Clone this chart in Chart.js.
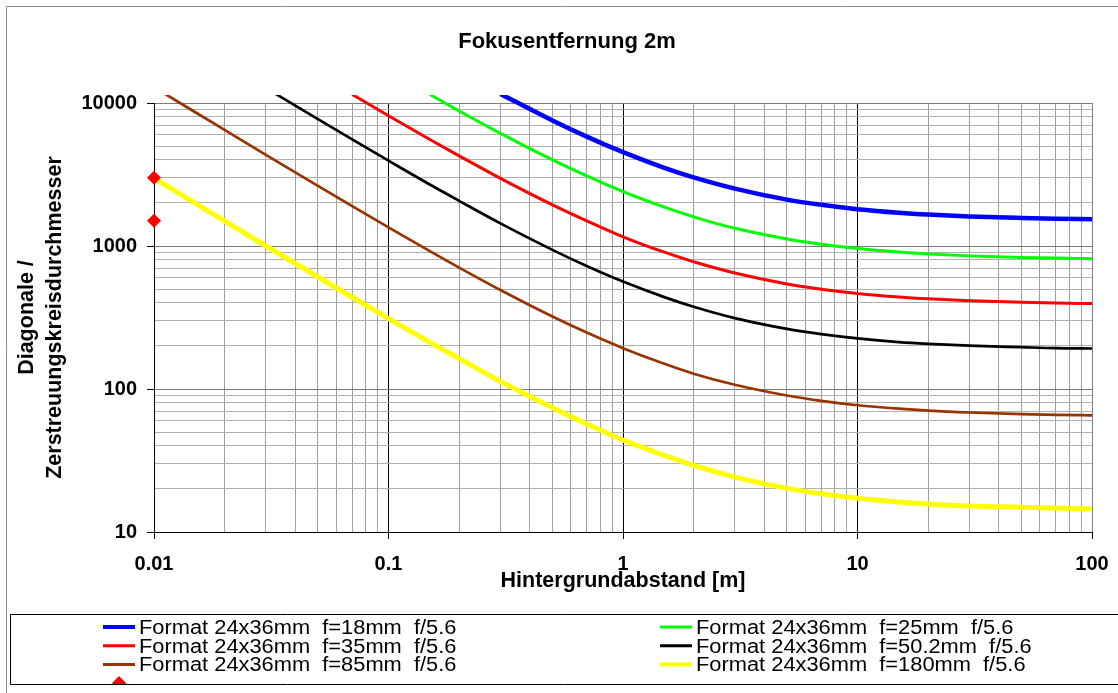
<!DOCTYPE html>
<html>
<head>
<meta charset="utf-8">
<script src="https://cdn.jsdelivr.net/npm/chart.js@4.4.1/dist/chart.umd.min.js"></script>
<style>
  html, body { margin: 0; padding: 0; background: #fff; overflow: hidden; }
  canvas { display: block; }
</style>
</head>
<body>
<canvas id="c" width="1118" height="693"></canvas>
<script>
const FONT = "'Liberation Sans', Arial, Helvetica, sans-serif";

// Texts
const titleText = 'Fokusentfernung 2m';
const xTitleText = 'Hintergrundabstand [m]';
const yTitleLines = ['Diagonale /', 'Zerstreuungskreisdurchmesser'];

// Tick labels (decades of both log axes)
const xTickLabels = ['0.01', '0.1', '1', '10', '100'];
const yTickLabels = ['10', '100', '1000', '10000'];

// Background distance in metres (shared x values)
const distances = [0.01, 0.015, 0.02, 0.03, 0.05, 0.07, 0.1, 0.15, 0.2, 0.3, 0.5, 0.7,
                   1, 1.5, 2, 3, 5, 7, 10, 15, 20, 30, 50, 70, 100];

// Diagonal / circle of confusion, one array per lens (null = above the plotted range)
const lens18 = [null, null, null, null, null, null, null, null, null,
                11580, 7550, 5820, 4530, 3520, 3020, 2520, 2110, 1940, 1810, 1710, 1660, 1610, 1570, 1550, 1540];
const lens25 = [null, null, null, null, null, null, null,
                11470, 8800, 6130, 4000, 3090, 2400, 1870, 1600, 1330, 1120, 1030, 960, 907, 880, 853, 832, 823, 816];
const lens35 = [null, null, null, null, null,
                11470, 8150, 5560, 4270, 2970, 1940, 1500, 1160, 905, 776, 647, 543, 499, 466, 440, 427, 414, 404, 399, 396];
const lens50 = [null, null, null,
                12720, 7710, 5560, 3950, 2690, 2070, 1440, 940, 725, 564, 439, 376, 313, 263, 242, 226, 213, 207, 201, 196, 193, 192];
const lens85 = [12900, 8620, 6480, 4340, 2630, 1900, 1350, 920, 706, 492, 321, 248, 193, 150, 128, 107, 90, 82.6, 77, 72.8, 70.6, 68.5, 66.8, 66, 65.5];
const lens180 = [2980, 1990, 1495, 1000, 607, 438, 311, 212, 163, 113, 74, 57, 44, 34.3, 29.2, 24.2, 20.2, 18.5, 17.2, 16.2, 15.7, 15.2, 14.9, 14.7, 14.5];

// Single marked points at the left edge
const markerX = [0.01, 0.01];
const markerY = [3000, 1500];

const seriesLabels = [
  'Format 24x36mm  f=18mm  f/5.6',
  'Format 24x36mm  f=25mm  f/5.6',
  'Format 24x36mm  f=35mm  f/5.6',
  'Format 24x36mm  f=50.2mm  f/5.6',
  'Format 24x36mm  f=85mm  f/5.6',
  'Format 24x36mm  f=180mm  f/5.6'
];
const markerLabel = 'Messpunkte';

const seriesValues = [lens18, lens25, lens35, lens50, lens85, lens180];
const seriesColors = ['#0000ff', '#00ff00', '#ff0000', '#000000', '#993300', '#ffff00'];
const seriesWidths = [4.5, 3, 3, 2.7, 2.7, 5];
const legendWidths = [4, 3, 3, 3, 3, 4];

function toPoints(values) {
  const pts = [];
  distances.forEach((d, i) => { if (values[i] !== null) pts.push({ x: d, y: values[i] }); });
  return pts;
}

const datasets = seriesValues.map((vals, i) => ({
  label: seriesLabels[i],
  data: toPoints(vals),
  borderColor: seriesColors[i],
  backgroundColor: seriesColors[i],
  borderWidth: seriesWidths[i],
  legendWidth: legendWidths[i],
  pointRadius: 0,
  fill: false,
  cubicInterpolationMode: 'monotone',
  borderCapStyle: 'butt',
  clip: { left: 0, top: 8, right: 0, bottom: 0 }
}));
datasets.push({
  label: markerLabel,
  data: markerX.map((x, i) => ({ x, y: markerY[i] })),
  showLine: false,
  pointStyle: 'rectRot',
  pointRadius: 6.5,
  pointBorderWidth: 1,
  pointBackgroundColor: '#ff0000',
  pointBorderColor: '#ff0000',
  backgroundColor: '#ff0000',
  borderColor: '#ff0000',
  clip: false,
  order: -1
});

// Decade ticks plus the 2..9 subdivisions in between
function logTicks(labels) {
  const vals = labels.map(Number);
  const ticks = [];
  for (let k = 0; k < vals.length; k++) {
    ticks.push({ value: vals[k], major: true });
    if (k < vals.length - 1) {
      for (let m = 2; m <= 9; m++) ticks.push({ value: m * vals[k], major: false });
    }
  }
  return ticks;
}
function decadeLabel(labels, value) {
  const i = labels.map(Number).indexOf(value);
  return i >= 0 ? labels[i] : '';
}
const isDecade = (labels, v) => labels.map(Number).indexOf(v) >= 0;

const xMin = Number(xTickLabels[0]), xMax = Number(xTickLabels[xTickLabels.length - 1]);
const yMin = Number(yTickLabels[0]), yMax = Number(yTickLabels[yTickLabels.length - 1]);

// Frame, title, axis titles and legend box
const decor = {
  id: 'decor',
  beforeDraw(chart) {
    const ctx = chart.ctx;
    ctx.save();
    ctx.fillStyle = '#ffffff';
    ctx.fillRect(0, 0, chart.width, chart.height);
    ctx.restore();
  },
  afterDraw(chart) {
    const ctx = chart.ctx;
    const a = chart.chartArea;
    ctx.save();

    // outer chart frame
    ctx.strokeStyle = '#8c8c8c';
    ctx.lineWidth = 1;
    ctx.beginPath();
    ctx.moveTo(6.5, chart.height);
    ctx.lineTo(6.5, 6.5);
    ctx.lineTo(chart.width, 6.5);
    ctx.stroke();

    // title
    ctx.fillStyle = '#000';
    ctx.textAlign = 'center';
    ctx.textBaseline = 'alphabetic';
    ctx.font = `bold 22px ${FONT}`;
    ctx.fillText(titleText, 567, 48);

    // x axis title
    ctx.font = `bold 21.5px ${FONT}`;
    ctx.fillText(xTitleText, (a.left + a.right) / 2, 587);

    // y axis title (two lines, rotated)
    const cy = (a.top + a.bottom) / 2;
    const baseX = [33, 61];
    yTitleLines.forEach((line, i) => {
      ctx.save();
      ctx.translate(baseX[i], cy);
      ctx.rotate(-Math.PI / 2);
      ctx.fillText(line, 0, 0);
      ctx.restore();
    });

    // legend box
    const box = { x: 10.5, y: 614.5, bottom: 684.5 };
    ctx.strokeStyle = '#000';
    ctx.lineWidth = 1;
    ctx.beginPath();
    ctx.moveTo(chart.width, box.y);
    ctx.lineTo(box.x, box.y);
    ctx.lineTo(box.x, box.bottom);
    ctx.lineTo(chart.width, box.bottom);
    ctx.stroke();

    ctx.save();
    ctx.beginPath();
    ctx.rect(box.x + 0.5, box.y + 0.5, chart.width - box.x, box.bottom - box.y - 1);
    ctx.clip();
    const colX = [103, 660];
    const row0 = 627, rowH = 18.7;
    const textScale = 1.12;
    ctx.textAlign = 'left';
    ctx.textBaseline = 'alphabetic';
    ctx.font = `19.5px ${FONT}`;
    chart.data.datasets.forEach((ds, i) => {
      const col = i % 2, row = Math.floor(i / 2);
      const x = colX[col], y = row0 + row * rowH;
      if (ds.showLine === false) {
        // marker entry: only the symbol reaches into the box
        const r = 7, cx = x + 16;
        ctx.fillStyle = ds.pointBackgroundColor;
        ctx.beginPath();
        ctx.moveTo(cx, y - r); ctx.lineTo(cx + r, y); ctx.lineTo(cx, y + r); ctx.lineTo(cx - r, y);
        ctx.closePath();
        ctx.fill();
        return;
      }
      ctx.strokeStyle = ds.borderColor;
      ctx.lineWidth = ds.legendWidth;
      ctx.beginPath();
      ctx.moveTo(x, y);
      ctx.lineTo(x + 32, y);
      ctx.stroke();
      ctx.save();
      ctx.translate(x + 36, y + 7);
      ctx.scale(textScale, 1);
      ctx.fillStyle = '#000';
      ctx.fillText(ds.label, 0, 0);
      ctx.restore();
    });
    ctx.restore();

    ctx.restore();
  }
};

const tickFont = { family: FONT, size: 20, weight: 'bold' };

new Chart(document.getElementById('c'), {
  type: 'line',
  data: { datasets },
  options: {
    responsive: false,
    animation: false,
    events: [],
    layout: { padding: { left: 0, top: 103, right: 26, bottom: 101 } },
    plugins: {
      legend: { display: false },
      title: { display: false },
      tooltip: { enabled: false }
    },
    scales: {
      x: {
        type: 'logarithmic',
        min: xMin,
        max: xMax,
        afterBuildTicks: s => { s.ticks = logTicks(xTickLabels); },
        afterFit: s => { s.height = 60; s.paddingLeft = 0; s.paddingRight = 0; },
        ticks: {
          autoSkip: false,
          maxRotation: 0,
          minRotation: 0,
          padding: 13,
          color: '#000',
          font: tickFont,
          callback: v => decadeLabel(xTickLabels, v)
        },
        grid: {
          lineWidth: 1,
          tickLength: 7,
          tickWidth: 1,
          color: c => {
            const v = c.tick ? c.tick.value : null;
            if (v === xMax) return '#808080';
            if (isDecade(xTickLabels, v)) return '#000000';
            return '#a0a0a0';
          },
          tickColor: c => (c.tick && isDecade(xTickLabels, c.tick.value)) ? '#000000' : 'rgba(0,0,0,0)'
        },
        border: { display: true, color: '#000', width: 1 }
      },
      y: {
        type: 'logarithmic',
        min: yMin,
        max: yMax,
        afterBuildTicks: s => { s.ticks = logTicks(yTickLabels); },
        afterFit: s => { s.width = 154; s.paddingTop = 0; s.paddingBottom = 0; },
        ticks: {
          autoSkip: false,
          padding: 10,
          color: '#000',
          font: tickFont,
          callback: v => decadeLabel(yTickLabels, v)
        },
        grid: {
          lineWidth: 1,
          tickLength: 7,
          tickWidth: 1,
          color: c => {
            const v = c.tick ? c.tick.value : null;
            if (v === yMin) return '#000000';
            if (isDecade(yTickLabels, v)) return '#7a7a7a';
            return '#b0b0b0';
          },
          tickColor: c => (c.tick && isDecade(yTickLabels, c.tick.value)) ? '#000000' : 'rgba(0,0,0,0)'
        },
        border: { display: true, color: '#000', width: 1 }
      }
    }
  },
  plugins: [decor]
});
</script>
</body>
</html>
